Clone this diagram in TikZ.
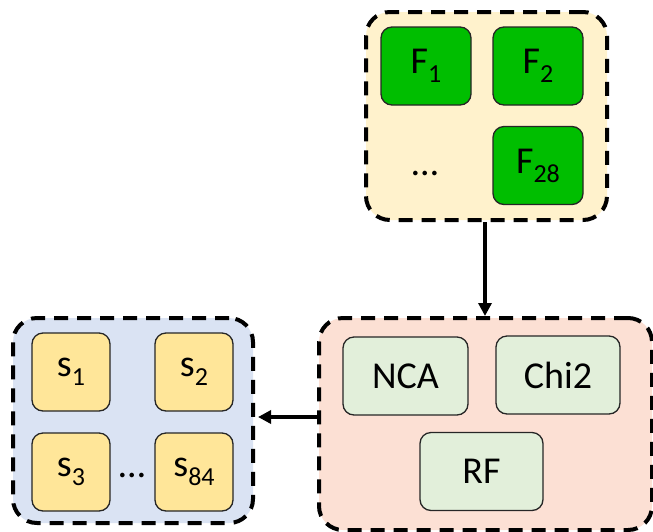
\documentclass[tikz,border=0pt]{standalone}
\usepackage{fontspec}
\setmainfont{Carlito}
\usepackage{xcolor}
\usepackage{tikz}
\usetikzlibrary{arrows.meta}
\definecolor{featfill}{RGB}{255, 242, 204}
\definecolor{featgreen}{RGB}{0, 190, 0}
\definecolor{selfill}{RGB}{252, 224, 212}
\definecolor{methfill}{RGB}{226, 239, 218}
\definecolor{subfill}{RGB}{218, 227, 243}
\definecolor{subbox}{RGB}{255, 230, 153}
\newcommand{\subidx}[1]{\raisebox{-9pt}{\fontsize{26}{26}\selectfont #1}}
\tikzset{
  groupbox/.style={draw, line width=4pt, dash pattern=on 14pt off 9pt, rounded corners=24pt, inner sep=0pt},
  itembox/.style={draw=black!85, line width=1.3pt, rounded corners=11pt, minimum width=90pt, minimum height=78pt, inner sep=0pt, font=\fontsize{38}{40}\selectfont},
  dotsnode/.style={anchor=base, inner sep=0pt, font=\fontsize{38}{40}\selectfont},
  link/.style={-{Triangle[length=13pt,width=13pt]}, line width=3.3pt},
}

\begin{document}
\begin{tikzpicture}[x=1pt,y=-1pt]
                \useasboundingbox (0,0) rectangle (653,531);

                \node[groupbox, fill=featfill, minimum width=241pt, minimum height=208pt] (feats) at (486.5,116) {};
                \node[itembox, fill=featgreen] (f1) at (426,66) {F\subidx{1}};
                \node[itembox, fill=featgreen] (f2) at (538,66) {F\subidx{2}};
                \node[itembox, fill=featgreen] (f28) at (538,165.5) {F\subidx{28}};
                \node[dotsnode] (fdots) at (425,175) {…};

                \node[groupbox, fill=selfill, minimum width=333pt, minimum height=212pt] (sel) at (485.5,424) {};
                \node[itembox, fill=methfill, minimum width=125pt] (nca) at (405.5,376) {NCA};
                \node[itembox, fill=methfill, minimum width=124pt] (chi) at (558,375) {Chi2};
                \node[itembox, fill=methfill, minimum width=123pt] (rf) at (481.5,471.5) {RF};

                \node[groupbox, fill=subfill, minimum width=240pt, minimum height=205pt] (subs) at (133,420.5) {};
                \node[itembox, fill=subbox, minimum width=78pt] (s1) at (71,372) {s\subidx{1}};
                \node[itembox, fill=subbox, minimum width=78pt] (s2) at (194,372) {s\subidx{2}};
                \node[itembox, fill=subbox, minimum width=78pt] (s3) at (71,472) {s\subidx{3}};
                \node[itembox, fill=subbox, minimum width=78pt] (s84) at (194,472) {s\subidx{84}};
                \node[dotsnode] (sdots) at (132,477) {…};

                \coordinate (mid) at (0,417);
                \draw[link] (feats.south -| 485,0) -- (sel.north -| 485,0);
                \draw[link, shorten >=3pt] (mid -| sel.west) -- (mid -| subs.east);
            \end{tikzpicture}
\end{document}
